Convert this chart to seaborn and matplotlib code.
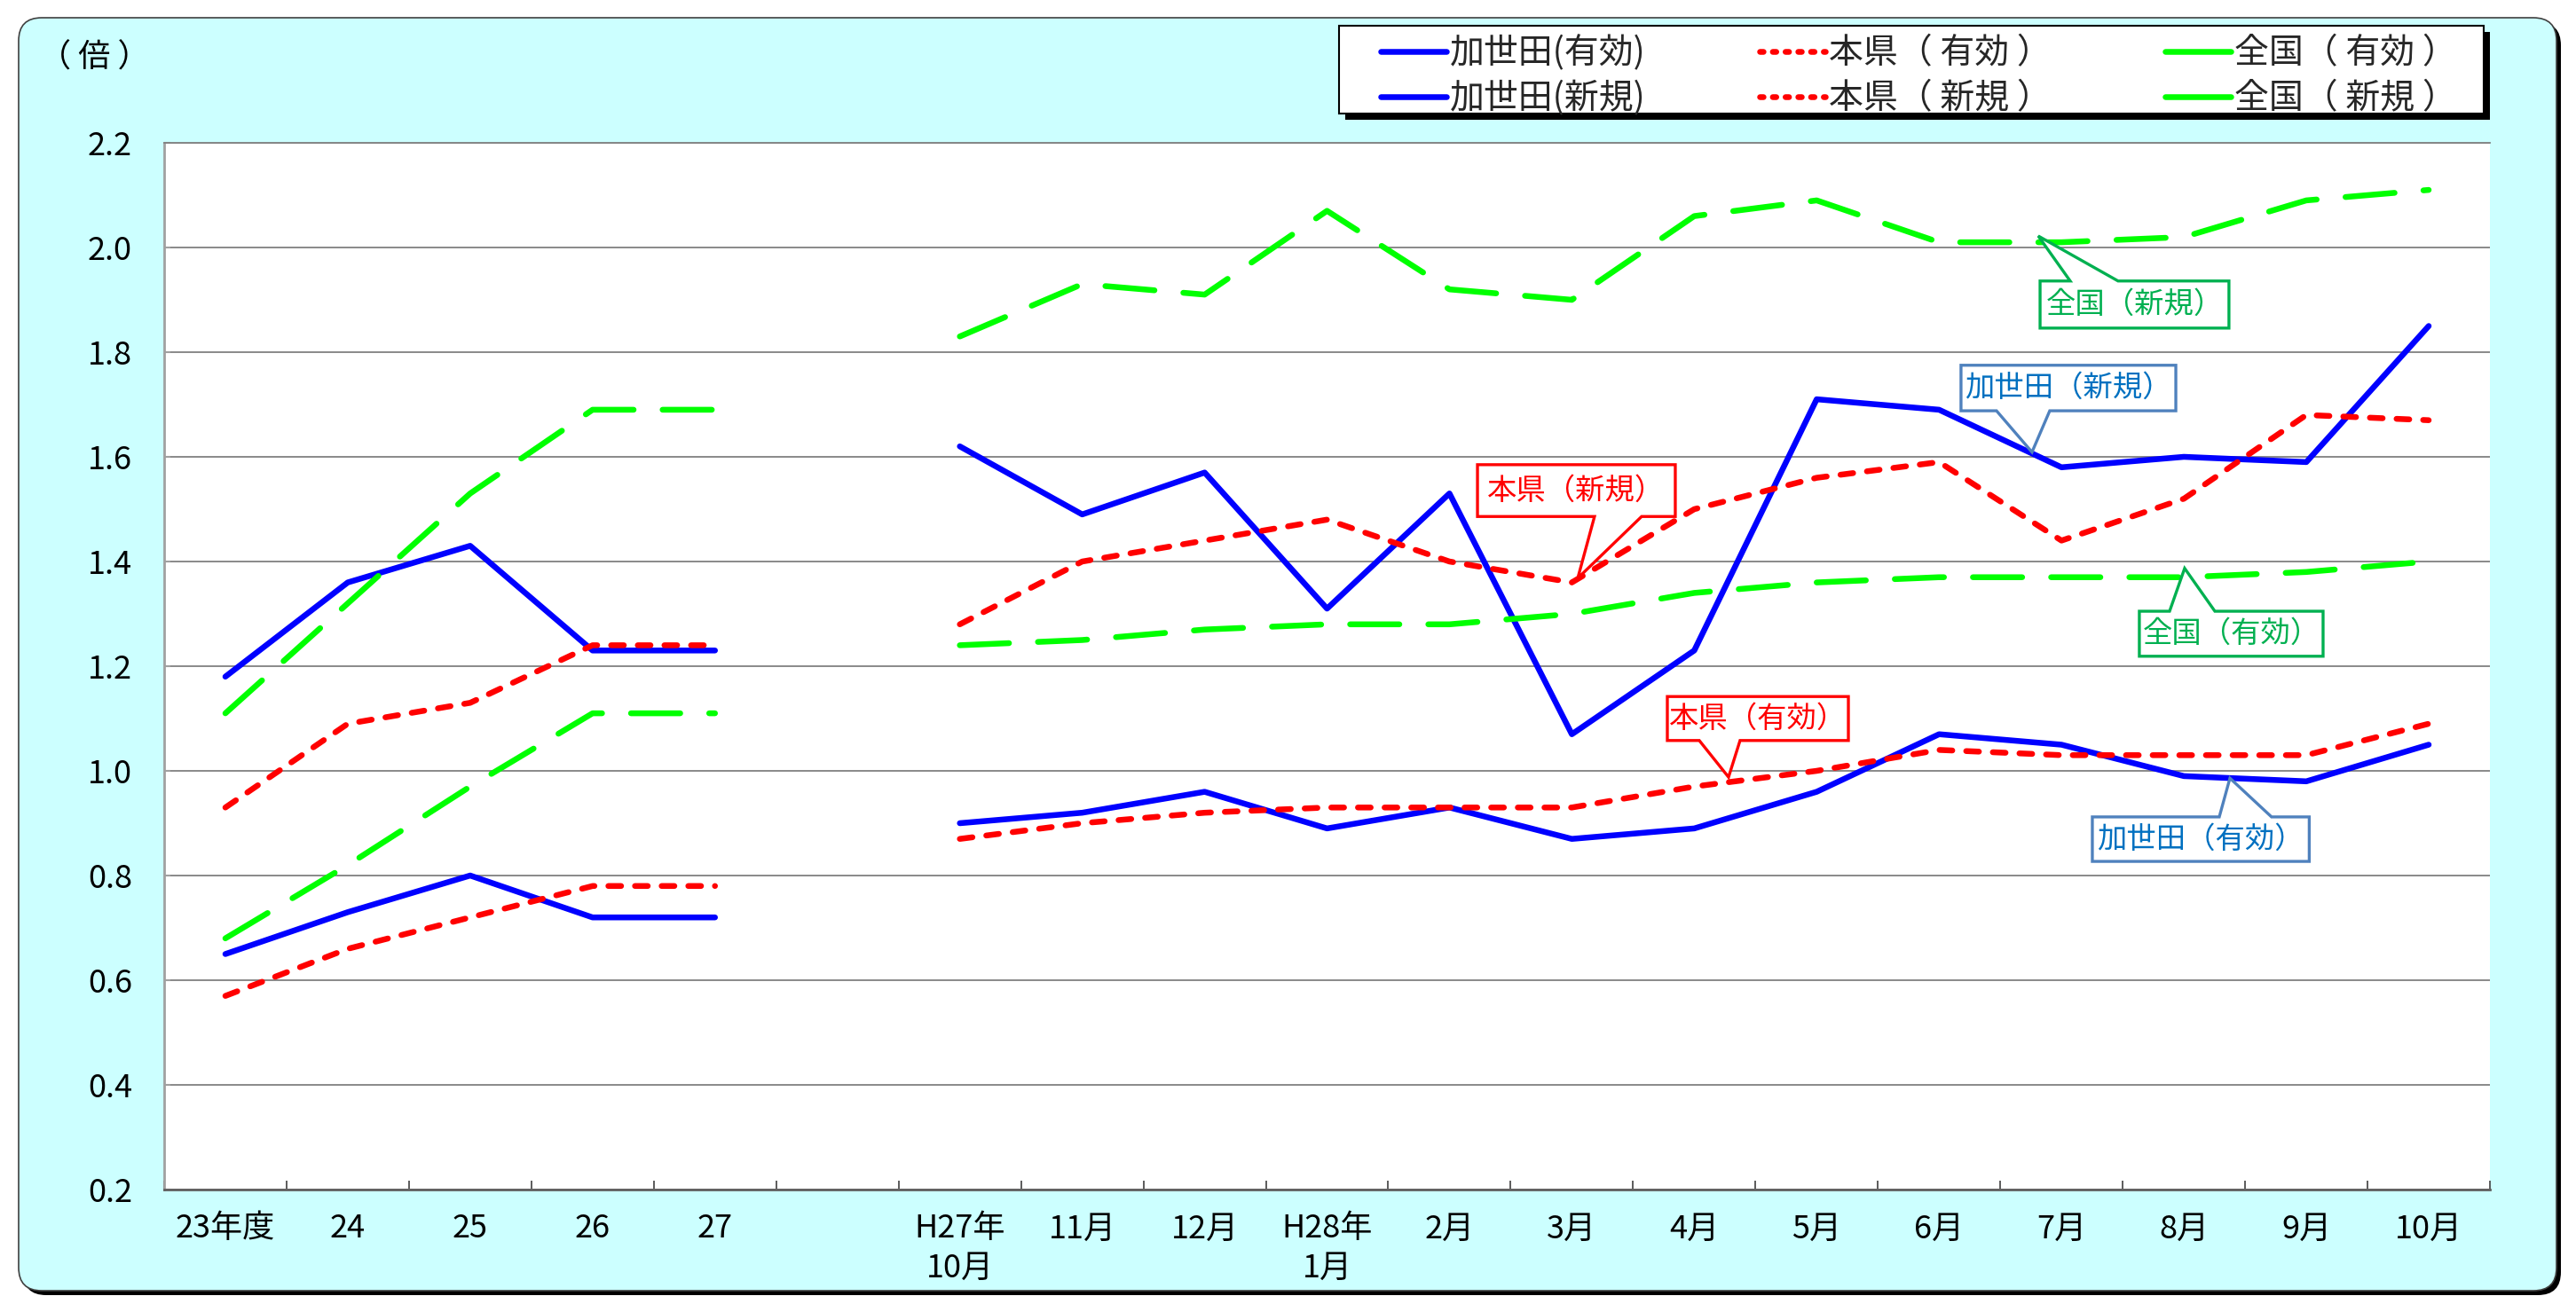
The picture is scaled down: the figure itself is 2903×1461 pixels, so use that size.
import numpy as np
import pandas as pd
import matplotlib
matplotlib.use("Agg")
import matplotlib.pyplot as plt
import seaborn as sns
from matplotlib.lines import Line2D
from matplotlib.patches import FancyBboxPatch, Rectangle, Polygon
from matplotlib.transforms import IdentityTransform

# ---------------- data ----------------
categories = ['23年度', '24', '25', '26', '27', '',
              'H27年\n10月', '11月', '12月', 'H28年\n1月', '2月', '3月', '4月',
              '5月', '6月', '7月', '8月', '9月', '10月']

kaseda_yuko = [0.65, 0.73, 0.80, 0.72, 0.72, None,
               0.90, 0.92, 0.96, 0.89, 0.93, 0.87, 0.89, 0.96, 1.07, 1.05, 0.99, 0.98, 1.05]
kaseda_shinki = [1.18, 1.36, 1.43, 1.23, 1.23, None,
                 1.62, 1.49, 1.57, 1.31, 1.53, 1.07, 1.23, 1.71, 1.69, 1.58, 1.60, 1.59, 1.85]
ken_yuko = [0.57, 0.66, 0.72, 0.78, 0.78, None,
            0.87, 0.90, 0.92, 0.93, 0.93, 0.93, 0.97, 1.00, 1.04, 1.03, 1.03, 1.03, 1.09]
ken_shinki = [0.93, 1.09, 1.13, 1.24, 1.24, None,
              1.28, 1.40, 1.44, 1.48, 1.40, 1.36, 1.50, 1.56, 1.59, 1.44, 1.52, 1.68, 1.67]
zenkoku_yuko = [0.68, 0.82, 0.97, 1.11, 1.11, None,
                1.24, 1.25, 1.27, 1.28, 1.28, 1.30, 1.34, 1.36, 1.37, 1.37, 1.37, 1.38, 1.40]
zenkoku_shinki = [1.11, 1.32, 1.53, 1.69, 1.69, None,
                  1.83, 1.93, 1.91, 2.07, 1.92, 1.90, 2.06, 2.09, 2.01, 2.01, 2.02, 2.09, 2.11]

series_names = ['加世田(有効)', '加世田(新規)', '本県（ 有効 ）', '本県（ 新規 ）', '全国（ 有効 ）', '全国（ 新規 ）']
series_values = [kaseda_yuko, kaseda_shinki, ken_yuko, ken_shinki, zenkoku_yuko, zenkoku_shinki]
gap_index = 5

y_ticks = [0.2, 0.4, 0.6, 0.8, 1.0, 1.2, 1.4, 1.6, 1.8, 2.0, 2.2]
y_unit = '（ 倍 ）'

# callouts: text, box (x0, x1, y_bottom, y_top), wedge base (xa, xb), side, tip (x, y), text colour, edge colour
callouts = [
    ('全国（新規）', (14.825, 16.368, 1.846, 1.936), (15.071, 15.462), 'top', (14.81, 2.022), '#00B050', '#00B050'),
    ('加世田（新規）', (14.179, 15.934, 1.688, 1.775), (14.469, 14.904), 'bottom', (14.759, 1.609), '#0070C0', '#4F81BD'),
    ('本県（新規）', (10.229, 11.845, 1.486, 1.585), (11.185, 11.570), 'bottom', (11.048, 1.368), '#FF0000', '#FF0000'),
    ('全国（有効）', (15.636, 17.137, 1.219, 1.305), (15.883, 16.253), 'top', (16.006, 1.387), '#00B050', '#00B050'),
    ('本県（有効）', (11.78, 13.259, 1.058, 1.142), (12.041, 12.374), 'bottom', (12.28, 0.988), '#FF0000', '#FF0000'),
    ('加世田（有効）', (15.252, 17.024, 0.827, 0.912), (16.289, 16.716), 'top', (16.376, 0.986), '#0070C0', '#4F81BD'),
]

# ---------------- long table ----------------
rows = []
for name, vals in zip(series_names, series_values):
    for i, v in enumerate(vals):
        if v is None:
            continue
        rows.append({'x': i, 'v': v, 'series': name, 'seg': 0 if i < gap_index else 1})
df = pd.DataFrame(rows)

palette = {
    series_names[0]: '#0000FF', series_names[1]: '#0000FF',
    series_names[2]: '#FF0000', series_names[3]: '#FF0000',
    series_names[4]: '#00FF00', series_names[5]: '#00FF00',
}
dash_map = {
    series_names[0]: '', series_names[1]: '',
    series_names[2]: (2.2, 2.4), series_names[3]: (2.2, 2.4),
    series_names[4]: (8.5, 5.0), series_names[5]: (8.5, 5.0),
}

# ---------------- style ----------------
sns.set_theme(style='white')
plt.rcParams['font.family'] = ['Noto Sans CJK JP', 'DejaVu Sans']

W, H = 2903, 1461
fig = plt.figure(figsize=(W / 100, H / 100), dpi=100)
fig.patch.set_facecolor('white')

# background rounded panel with shadow (pixel coords)
shadow = FancyBboxPatch((21 + 5, 6 - 5), 2860, 1435,
                        boxstyle='round,pad=0,rounding_size=26',
                        transform=IdentityTransform(), fc='black', ec='black', lw=0, zorder=0)
panel = FancyBboxPatch((21, 6), 2860, 1435,
                       boxstyle='round,pad=0,rounding_size=26',
                       transform=IdentityTransform(), fc='#CCFFFF', ec='#404040', lw=1.2, zorder=0)
fig.add_artist(shadow)
fig.add_artist(panel)

# legend frame with hard black shadow (pixel coords)
leg_shadow = Rectangle((1509 + 7, H - 128 - 7), 1290, 99, transform=IdentityTransform(),
                       fc='black', ec='black', lw=0, zorder=0.4)
leg_frame = Rectangle((1509, H - 128), 1290, 99, transform=IdentityTransform(),
                      fc='white', ec='black', lw=1.5, zorder=0.5)
fig.add_artist(leg_shadow)
fig.add_artist(leg_frame)

ax = fig.add_axes([185 / W, 1 - 1341 / H, (2806 - 185) / W, (1341 - 161) / H])
ax.set_facecolor('white')
ax.set_zorder(1)

sns.lineplot(data=df, x='x', y='v', hue='series', style='series', units='seg',
             estimator=None, sort=False, hue_order=series_names, style_order=series_names,
             palette=palette, dashes=dash_map, linewidth=4.7, legend=False, ax=ax)
for ln in ax.lines:
    ln.set_dash_capstyle('round')
    ln.set_solid_capstyle('round')
    ln.set_solid_joinstyle('round')
    ln.set_dash_joinstyle('round')

ax.set_xlim(-0.5, len(categories) - 0.5)
ax.set_ylim(0.2, 2.2)
ax.set_xlabel('')
ax.set_ylabel('')

ax.set_xticks(range(len(categories)))
ax.set_xticklabels(categories, fontsize=26, color='black', linespacing=1.3, va='top')
ax.set_xticks(np.arange(-0.5, len(categories), 1.0), minor=True)
ax.tick_params(axis='x', which='major', length=0, pad=19)
ax.tick_params(axis='x', which='minor', direction='in', length=7, width=1.2, color='#404040', bottom=True)

ax.set_yticks(y_ticks)
ax.set_yticklabels([f'{t:.1f}' for t in y_ticks], fontsize=26, color='black')
ax.tick_params(axis='y', which='major', direction='in', length=5, width=1.5, color='#A0A0A0', pad=26, left=True)

ax.grid(axis='y', color='#808080', lw=1.3)
ax.grid(axis='x', visible=False)
ax.set_axisbelow(True)
ax.spines['right'].set_visible(False)
ax.spines['top'].set_color('#808080')
ax.spines['top'].set_linewidth(1.3)
ax.spines['left'].set_color('#A0A0A0')
ax.spines['left'].set_linewidth(2)
ax.spines['bottom'].set_color('#606060')
ax.spines['bottom'].set_linewidth(2)

# unit label
fig.text(106 / W, 1 - 66 / H, y_unit, fontsize=26, ha='center', va='center', color='black')

# callouts (box + wedge drawn as one outline)
for text, (x0, x1, yb, yt), (xa, xb), side, tip, tcol, ecol in callouts:
    if side == 'top':
        verts = [(x0, yb), (x1, yb), (x1, yt), (xb, yt), tip, (xa, yt), (x0, yt)]
    else:
        verts = [(x0, yt), (x1, yt), (x1, yb), (xb, yb), tip, (xa, yb), (x0, yb)]
    poly = Polygon(verts, closed=True, fc='white', ec=ecol, lw=2.4, joinstyle='miter', zorder=6)
    ax.add_patch(poly)
    ax.text((x0 + x1) / 2, (yb + yt) / 2, text, fontsize=24, color=tcol,
            ha='center', va='center', zorder=7)

# legend (frame drawn above)
handles = []
for name in series_names:
    dsh = dash_map[name]
    h = Line2D([0], [0], color=palette[name], lw=4.7, solid_capstyle='round', dash_capstyle='round')
    if dsh != '' and dsh[0] < 5:
        h.set_dashes((0.6, 1.6))
    handles.append(h)
leg = ax.legend(handles, series_names, ncol=3, loc='upper left',
                bbox_to_anchor=(1556 / W, 1 - 40 / H), bbox_transform=fig.transFigure,
                borderaxespad=0, frameon=False,
                fontsize=28, handlelength=1.9, handletextpad=0.1, columnspacing=3.3,
                borderpad=0, labelspacing=0.28)
leg.set_zorder(10)

fig.savefig('out.png', dpi=100, facecolor='white')
